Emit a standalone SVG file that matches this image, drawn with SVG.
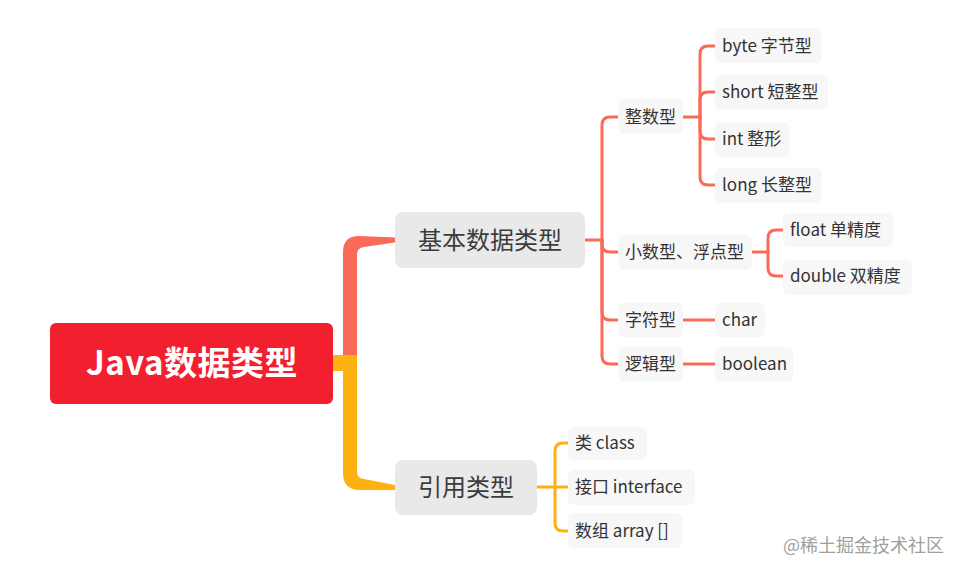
<svg xmlns="http://www.w3.org/2000/svg" width="961" height="573" viewBox="0 0 961 573">
<style>
text{font-family:"Noto Sans CJK SC","Liberation Sans",sans-serif;fill:#333}
.main{fill:#e9e9e9}
.leaf{fill:#f7f7f7}
.r{stroke:#f96a58;stroke-width:3;fill:none;stroke-linecap:round}
.o{stroke:#fdb212;stroke-width:3;fill:none;stroke-linecap:round}
.t2{font-size:24px;fill:#3c3c3c}
.t3{font-size:17px}
</style>
<rect width="961" height="573" fill="#fff"/>
<g id="connectors">
<path d="M343,355 L343,252 Q343,236 359,236 L395,237.5 L395,242.5 L364,247 Q357,248 357,254 L357,356 Z" fill="#f96a58"/>
<path d="M333,355 L357,355 L357,472 Q357,478 364,479 L395,485 L395,490 L360,490 Q343,490 343,473 L343,371 L333,371 Z" fill="#fdb212"/>
<g class="r">
<path d="M585,240 H602"/>
<path d="M602,240 V125 Q602,117 610,117 H618"/>
<path d="M602,240 V244 Q602,252 610,252 H618"/>
<path d="M602,240 V312 Q602,320 610,320 H618"/>
<path d="M602,240 V356 Q602,364 610,364 H618"/>
<path d="M683,117 H700"/>
<path d="M700,117 V54 Q700,46 708,46 H715"/>
<path d="M700,117 V100 Q700,92 708,92 H715"/>
<path d="M700,117 V131 Q700,139 708,139 H715"/>
<path d="M700,117 V177 Q700,185 708,185 H715"/>
<path d="M752,252 H768"/>
<path d="M768,252 V238 Q768,230 776,230 H783"/>
<path d="M768,252 V268 Q768,276 776,276 H783"/>
<path d="M683,320 H715"/>
<path d="M683,364 H715"/>
</g>
<g class="o">
<path d="M537,487 H555"/>
<path d="M555,487 V451 Q555,443 563,443 H568"/>
<path d="M555,487 H568"/>
<path d="M555,487 V523 Q555,531 563,531 H568"/>
</g>
</g>
<g id="root"><rect x="50" y="323" width="283" height="81" rx="6" fill="#f21f2f"/><text x="192" y="375" text-anchor="middle" font-size="33" font-weight="bold" letter-spacing="0.5" style="fill:#fff">Java数据类型</text></g>
<g id="basic"><rect class="main" x="395" y="212" width="190" height="56" rx="8"/><text class="t2" x="490" y="249" text-anchor="middle">基本数据类型</text></g>
<g id="ref"><rect class="main" x="395" y="460" width="142" height="55" rx="8"/><text class="t2" x="466" y="496" text-anchor="middle">引用类型</text></g>
<g id="int-type"><rect class="leaf" x="618" y="99" width="65" height="35" rx="6"/><text class="t3" x="625" y="123">整数型</text></g>
<g id="float-type"><rect class="leaf" x="618" y="235" width="134" height="35" rx="6"/><text class="t3" x="625" y="258">小数型、浮点型</text></g>
<g id="char-type"><rect class="leaf" x="618" y="303" width="65" height="34" rx="6"/><text class="t3" x="625" y="326">字符型</text></g>
<g id="bool-type"><rect class="leaf" x="618" y="347" width="65" height="35" rx="6"/><text class="t3" x="625" y="370">逻辑型</text></g>
<g id="byte"><rect class="leaf" x="715" y="28" width="107" height="35" rx="6"/><text class="t3" x="722" y="52">byte 字节型</text></g>
<g id="short"><rect class="leaf" x="715" y="75" width="113" height="35" rx="6"/><text class="t3" x="722" y="98">short 短整型</text></g>
<g id="int"><rect class="leaf" x="715" y="122" width="75" height="35" rx="6"/><text class="t3" x="722" y="145">int 整形</text></g>
<g id="long"><rect class="leaf" x="715" y="168" width="107" height="35" rx="6"/><text class="t3" x="722" y="191">long 长整型</text></g>
<g id="float"><rect class="leaf" x="783" y="213" width="110" height="34" rx="6"/><text class="t3" x="790" y="236">float 单精度</text></g>
<g id="double"><rect class="leaf" x="783" y="260" width="129" height="35" rx="6"/><text class="t3" x="790" y="282">double 双精度</text></g>
<g id="char"><rect class="leaf" x="715" y="303" width="50" height="34" rx="6"/><text class="t3" x="722" y="326">char</text></g>
<g id="boolean"><rect class="leaf" x="715" y="347" width="78" height="35" rx="6"/><text class="t3" x="722" y="370">boolean</text></g>
<g id="class"><rect class="leaf" x="568" y="427" width="79" height="33" rx="6"/><text class="t3" x="575" y="449">类 class</text></g>
<g id="interface"><rect class="leaf" x="568" y="470" width="127" height="35" rx="6"/><text class="t3" x="575" y="493">接口 interface</text></g>
<g id="array"><rect class="leaf" x="568" y="513" width="114" height="35" rx="6"/><text class="t3" x="575" y="537">数组 array []</text></g>
<text x="783" y="552" font-size="18" style="fill:#a0a0a0">@稀土掘金技术社区</text>
</svg>
